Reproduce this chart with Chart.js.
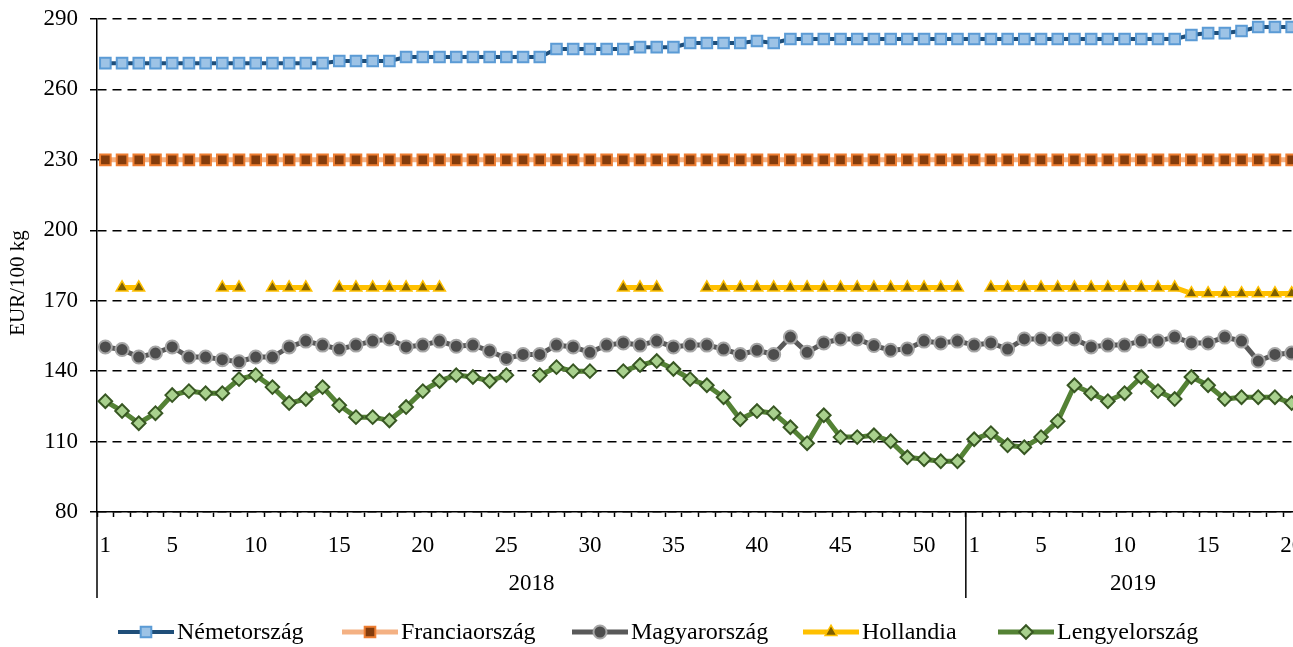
<!DOCTYPE html>
<html>
<head>
<meta charset="utf-8">
<script src="https://cdn.jsdelivr.net/npm/chart.js@4"></script>
<style>
  html, body { margin: 0; padding: 0; background: #ffffff; overflow: hidden; }
  #wrap { width: 1293px; height: 647px; overflow: hidden; }
</style>
</head>
<body>
<div id="wrap"><canvas id="chart" width="1301" height="647"></canvas></div>
<script>
// heti árak, EUR/100 kg (2018. 1. hét - 2019. 20. hét)
const weekLabels = [
  '1','2','3','4','5','6','7','8','9','10','11','12','13','14','15','16','17','18','19','20',
  '21','22','23','24','25','26','27','28','29','30','31','32','33','34','35','36','37','38','39','40',
  '41','42','43','44','45','46','47','48','49','50','51','52',
  '1','2','3','4','5','6','7','8','9','10','11','12','13','14','15','16','17','18','19','20'
];
const years = ['2018', '2019'];
const weeksPerYear = [52, 20];
const yTicks = [80, 110, 140, 170, 200, 230, 260, 290];

const nemetorszag = [
  271.2,271.2,271.2,271.2,271.2,271.2,271.2,271.2,271.2,271.2,271.2,271.2,271.2,271.2,
  272.1,272.1,272.1,272.1,
  273.8,273.8,273.8,273.8,273.8,273.8,273.8,273.8,273.8,
  277.2,277.2,277.2,277.2,277.2,
  278.0,278.0,278.0,
  279.8,279.8,279.8,279.8,280.6,279.8,
  281.5,281.5,281.5,281.5,281.5,281.5,281.5,281.5,281.5,281.5,281.5,
  281.5,281.5,281.5,281.5,281.5,281.5,281.5,281.5,281.5,281.5,281.5,281.5,281.5,
  283.2,284.0,284.0,284.9,286.6,286.6,286.6
];
const franciaorszag = [
  230,230,230,230,230,230,230,230,230,230,230,230,230,230,230,230,230,230,230,230,
  230,230,230,230,230,230,230,230,230,230,230,230,230,230,230,230,230,230,230,230,
  230,230,230,230,230,230,230,230,230,230,230,230,
  230,230,230,230,230,230,230,230,230,230,230,230,230,230,230,230,230,230,230,230
];
const magyarorszag = [
  150.3,149.2,146.0,147.7,150.3,146.0,146.0,144.9,144.0,146.0,
  146.0,150.3,152.8,151.1,149.4,151.1,152.8,153.7,150.3,151.1,
  152.8,150.6,151.1,148.6,145.4,147.1,147.1,151.1,150.3,148.0,
  151.1,152.0,151.1,152.8,150.3,151.1,151.1,149.4,147.1,148.9,
  147.1,154.5,148.0,152.0,153.7,153.7,150.9,148.9,149.4,152.8,
  152.0,152.8,
  151.1,152.0,149.4,153.7,153.7,153.7,153.7,150.3,151.1,151.1,
  152.8,152.8,154.5,152.0,152.0,154.5,152.8,144.3,147.1,147.7
];
const hollandia = [
  null,175.6,175.6,null,null,null,null,175.6,175.6,null,
  175.6,175.6,175.6,null,175.6,175.6,175.6,175.6,175.6,175.6,
  175.6,null,null,null,null,null,null,null,null,null,
  null,175.6,175.6,175.6,null,null,175.6,175.6,175.6,175.6,
  175.6,175.6,175.6,175.6,175.6,175.6,175.6,175.6,175.6,175.6,
  175.6,175.6,
  null,175.6,175.6,175.6,175.6,175.6,175.6,175.6,175.6,175.6,
  175.6,175.6,175.6,173.1,173.1,173.1,173.1,173.1,173.1,173.1
];
const lengyelorszag = [
  127.2,123.0,117.8,122.1,129.8,131.5,130.6,130.6,136.6,138.3,
  133.2,126.4,128.1,133.2,125.5,120.4,120.4,119.0,124.7,131.5,
  135.8,138.3,137.5,135.8,138.3,null,138.3,141.7,140.0,140.0,
  null,140.0,142.6,144.3,140.9,136.6,134.0,128.9,119.5,123.0,
  122.1,116.1,109.3,121.2,111.9,111.9,112.7,110.1,103.3,102.5,
  101.6,101.6,
  111.0,113.6,108.4,107.6,111.9,118.7,134.0,130.6,127.2,130.6,
  137.5,131.5,128.1,137.5,134.0,128.1,128.9,128.9,128.9,126.4
];

const FONT = '"Liberation Serif", "Times New Roman", serif';

// sorozatok stílusa
const series = [
  { label: 'Németország', data: nemetorszag, line: '#1F4E79', width: 4, style: 'rect', r: 7.5, fill: '#9DC3E6', border: '#5B9BD5', bw: 2 },
  { label: 'Franciaország', data: franciaorszag, line: '#F4B183', width: 5, style: 'rect', r: 7.5, fill: '#843C0C', border: '#ED7D31', bw: 2 },
  { label: 'Magyarország', data: magyarorszag, line: '#595959', width: 5, style: 'circle', r: 6.5, fill: '#4D4D4D', border: '#A6A6A6', bw: 2 },
  { label: 'Hollandia', data: hollandia, line: '#FFC000', width: 5, style: 'triangle', r: 6.8, fill: '#7F6000', border: '#FFC000', bw: 1.5 },
  { label: 'Lengyelország', data: lengyelorszag, line: '#548235', width: 5, style: 'rectRot', r: 6.8, fill: '#A9D18E', border: '#385723', bw: 2 }
];
const legendX = [118, 342, 572, 803, 998];

function drawMarker(ctx, s, x, y) {
  ctx.save();
  ctx.fillStyle = s.fill;
  ctx.strokeStyle = s.border;
  ctx.lineWidth = s.bw;
  if (Chart.helpers && Chart.helpers.drawPoint) {
    Chart.helpers.drawPoint(ctx, { pointStyle: s.style, radius: s.r, rotation: 0, borderWidth: s.bw }, x, y);
  } else {
    ctx.beginPath();
    ctx.arc(x, y, s.r, 0, Math.PI * 2);
    ctx.fill();
    ctx.stroke();
  }
  ctx.restore();
}

// évek, elválasztó vonalak, tengelycím és jelmagyarázat
const extras = {
  id: 'extras',
  afterDraw(chart) {
    const ctx = chart.ctx;
    const xs = chart.scales.x;
    const area = chart.chartArea;
    const lineBottom = 598;

    ctx.save();
    ctx.strokeStyle = '#000000';
    ctx.lineWidth = 1.5;
    ctx.fillStyle = '#000000';
    ctx.font = '23px ' + FONT;
    ctx.textAlign = 'center';
    ctx.textBaseline = 'middle';

    let start = 0;
    years.forEach((yr, i) => {
      const end = start + weeksPerYear[i] - 1;
      const half = (xs.getPixelForValue(1) - xs.getPixelForValue(0)) / 2;
      const left = xs.getPixelForValue(start) - half;
      if (i > 0) {
        ctx.beginPath();
        ctx.moveTo(left, area.bottom);
        ctx.lineTo(left, lineBottom);
        ctx.stroke();
      }
      const mid = (xs.getPixelForValue(start) + xs.getPixelForValue(end)) / 2;
      ctx.fillText(yr, mid, 584);
      start = end + 1;
    });
    ctx.beginPath();
    ctx.moveTo(area.left, area.bottom);
    ctx.lineTo(area.left, lineBottom);
    ctx.stroke();

    // y tengely címe
    ctx.save();
    ctx.translate(18, 283);
    ctx.rotate(-Math.PI / 2);
    ctx.font = '21px ' + FONT;
    ctx.fillText('EUR/100 kg', 0, 0);
    ctx.restore();

    // jelmagyarázat
    const ly = 632;
    ctx.font = '24px ' + FONT;
    ctx.textAlign = 'left';
    series.forEach((s, i) => {
      const x0 = legendX[i];
      ctx.beginPath();
      ctx.strokeStyle = s.line;
      ctx.lineWidth = s.width;
      ctx.moveTo(x0, ly);
      ctx.lineTo(x0 + 56, ly);
      ctx.stroke();
      drawMarker(ctx, s, x0 + 28, ly);
      ctx.fillStyle = '#000000';
      ctx.fillText(s.label, x0 + 59, ly + 1);
    });
    ctx.restore();
  }
};

new Chart(document.getElementById('chart'), {
  type: 'line',
  data: {
    labels: weekLabels,
    datasets: series.map(s => ({
      label: s.label,
      data: s.data,
      borderColor: s.line,
      borderWidth: s.width,
      backgroundColor: s.fill,
      pointStyle: s.style,
      pointRadius: s.r,
      pointBackgroundColor: s.fill,
      pointBorderColor: s.border,
      pointBorderWidth: s.bw,
      spanGaps: false,
      tension: 0,
      fill: false
    }))
  },
  options: {
    responsive: false,
    animation: false,
    devicePixelRatio: 1,
    layout: { autoPadding: false, padding: { top: 19, left: 0, right: 1, bottom: 0 } },
    plugins: { legend: { display: false }, tooltip: { enabled: false } },
    scales: {
      x: {
        type: 'category',
        offset: true,
        afterFit(scale) {
          scale.height = 135;
          scale.paddingLeft = 0;
          scale.paddingRight = 0;
        },
        grid: {
          offset: true,
          drawOnChartArea: false,
          drawTicks: true,
          tickLength: 5,
          tickColor: '#000000',
          tickWidth: 1.5
        },
        border: { display: true, color: '#000000', width: 1.5 },
        ticks: {
          autoSkip: false,
          maxRotation: 0,
          minRotation: 0,
          padding: 15,
          color: '#000000',
          font: { family: FONT, size: 23 },
          callback(value, index) {
            const w = Number(weekLabels[index]);
            return (w === 1 || w % 5 === 0) ? weekLabels[index] : '';
          }
        }
      },
      y: {
        min: 80,
        max: 290,
        afterFit(scale) {
          scale.width = 97;
          scale.paddingTop = 0;
          scale.paddingBottom = 0;
        },
        afterBuildTicks(scale) { scale.ticks = yTicks.map(v => ({ value: v })); },
        grid: {
          color: '#000000',
          lineWidth: 1.5,
          tickLength: 7,
          tickColor: '#000000',
          tickBorderDash: [],
          tickWidth: 1.5
        },
        border: { display: true, color: '#000000', width: 1.5, dash: [9, 6] },
        ticks: {
          padding: 12,
          color: '#000000',
          font: { family: FONT, size: 23 }
        }
      }
    }
  },
  plugins: [extras]
});
</script>
</body>
</html>
